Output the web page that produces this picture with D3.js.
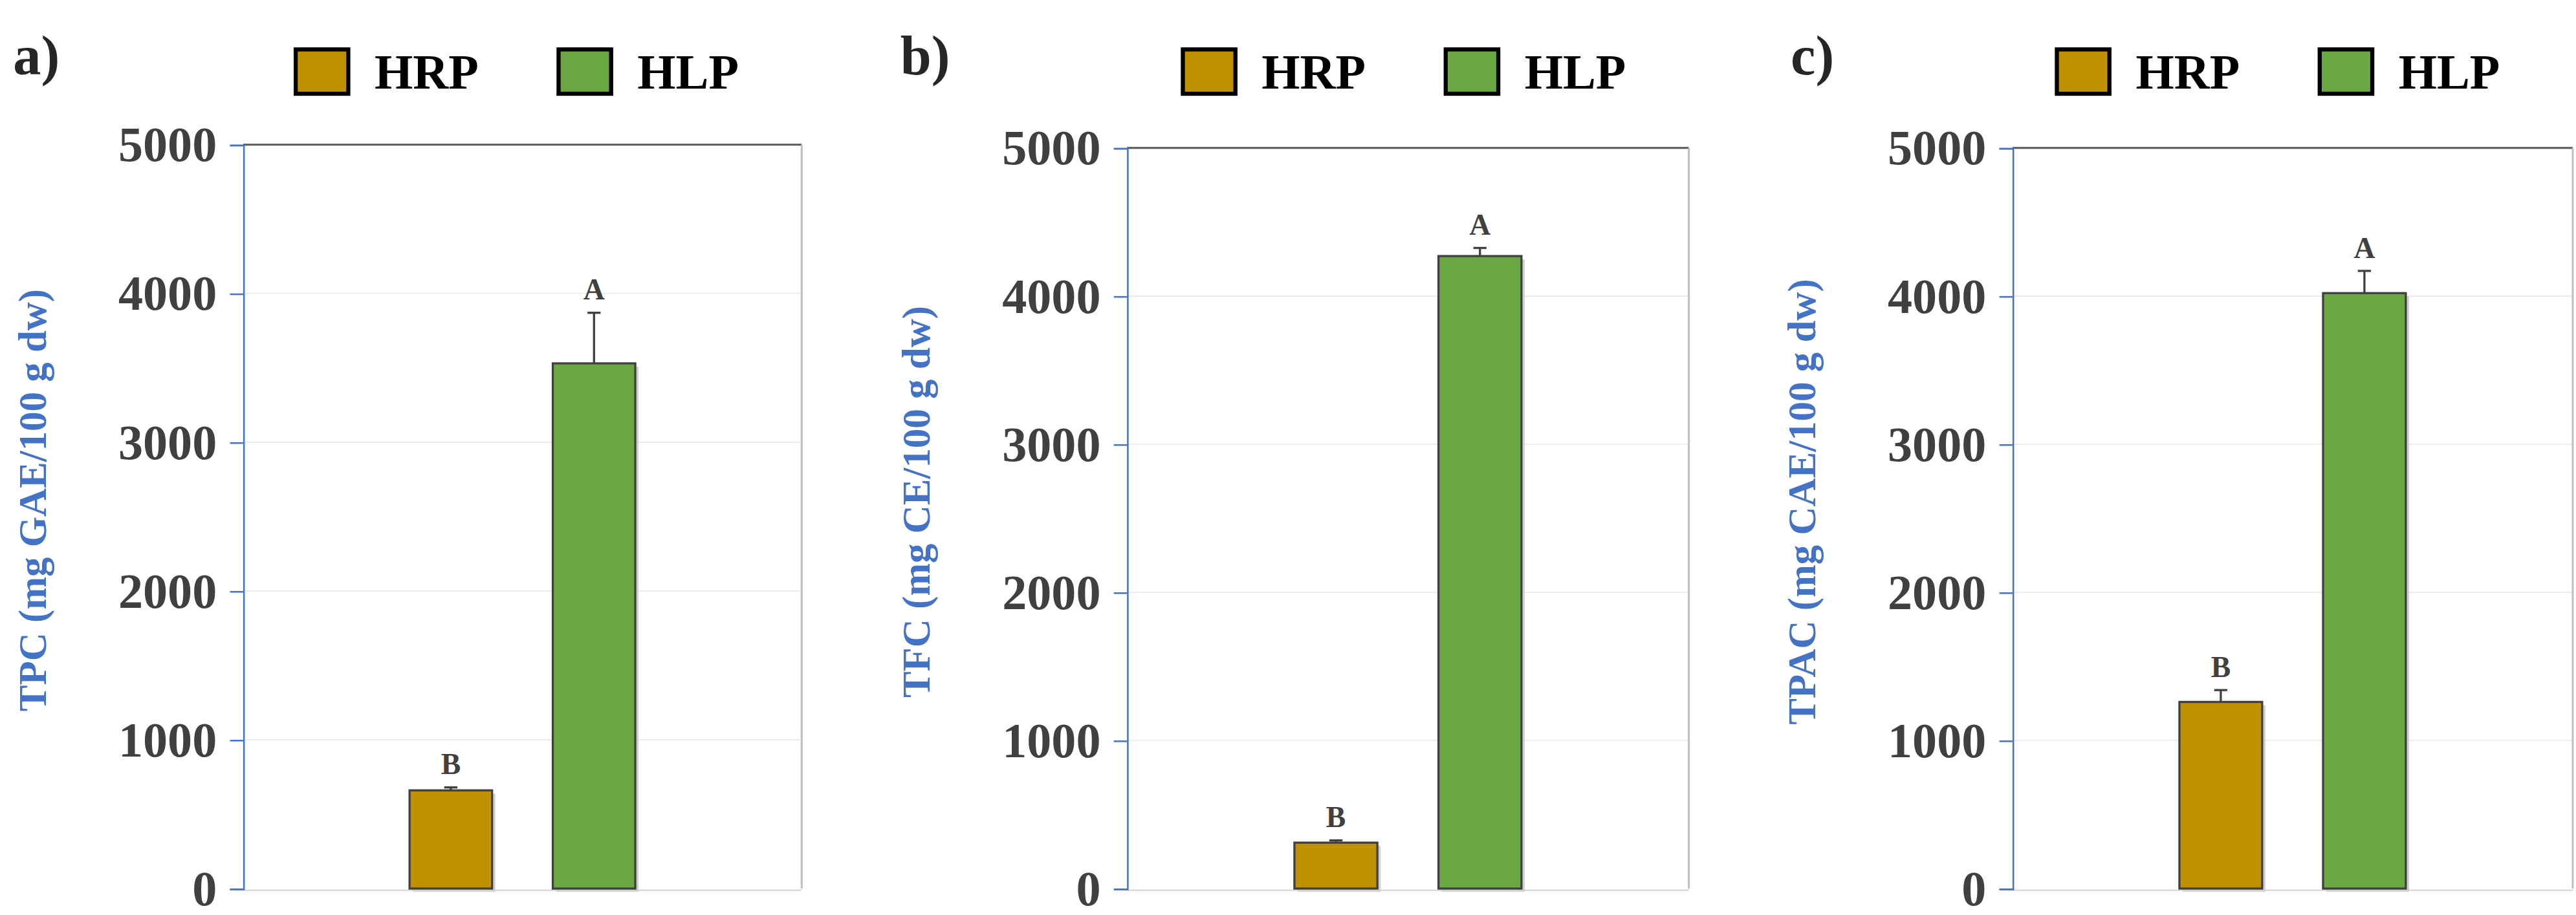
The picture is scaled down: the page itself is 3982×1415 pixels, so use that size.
<!DOCTYPE html>
<html><head><meta charset="utf-8">
<script src="https://cdn.jsdelivr.net/npm/d3@7"></script>
<style>body{margin:0;background:#fff}</style>
</head><body><div id="chart"></div>
<script>
// data
const groups = ['HRP', 'HLP'];
const colors = ['#BF9000', '#6AA842'];
const panels = ['a)', 'b)', 'c)'];
const yTitles = ['TPC (mg GAE/100 g dw)', 'TFC (mg CE/100 g dw)', 'TPAC (mg CAE/100 g dw)'];
const means = [[660, 3530], [310, 4270], [1260, 4020]];
const errs = [[20, 340], [15, 55], [80, 150]];
const letters = [['B', 'A'], ['B', 'A'], ['B', 'A']];
const yTicks = [0, 1000, 2000, 3000, 4000, 5000];

// drawn in a 1568x557 coordinate space, scaled up
const svg = d3.select('#chart').append('svg')
    .attr('width', 3982).attr('height', 1415)
    .attr('viewBox', '0 0 1568 557');

const layout = [
    {x0: 148, x1: 488, top: 88, lab: 8, leg: 180},
    {x0: 686, x1: 1028, top: 90, lab: 548, leg: 720},
    {x0: 1225, x1: 1566, top: 90, lab: 1090, leg: 1252}
];
const bottom = 541;
const font = '"Liberation Serif", "Times New Roman", serif';

layout.forEach((L, p) => {
    const g = svg.append('g');
    const y = d3.scaleLinear().domain([0, 5000]).range([bottom, L.top]);
    const x = d3.scaleBand().domain(['', ...groups, ' ']).range([L.x0, L.x1]).paddingInner(0.1);

    // grid
    g.selectAll('.grid').data(yTicks.slice(1, -1)).enter().append('line')
        .attr('x1', L.x0).attr('x2', L.x1)
        .attr('y1', d => y(d)).attr('y2', d => y(d))
        .attr('stroke', '#ececec').attr('stroke-width', 0.8);
    // frame
    g.append('line').attr('x1', L.x0).attr('x2', L.x1).attr('y1', L.top).attr('y2', L.top)
        .attr('stroke', '#595959').attr('stroke-width', 1.2);
    g.append('line').attr('x1', L.x1).attr('x2', L.x1).attr('y1', L.top).attr('y2', bottom)
        .attr('stroke', '#bfbfbf').attr('stroke-width', 1.2);
    g.append('line').attr('x1', L.x0).attr('x2', L.x1).attr('y1', bottom + 1).attr('y2', bottom + 1)
        .attr('stroke', '#d9d9d9').attr('stroke-width', 1);

    const ax = g.append('g').attr('transform', `translate(${L.x0},0)`)
        .call(d3.axisLeft(y).tickValues(yTicks).tickFormat(d3.format('d')).tickSize(8).tickPadding(8));
    ax.select('.domain').attr('stroke', '#4472C4');
    ax.selectAll('.tick line').attr('stroke', '#4472C4');
    ax.selectAll('.tick text').attr('fill', '#404040')
        .style('font', `bold 30px ${font}`);

    // y title
    g.append('text')
        .attr('transform', `translate(${L.x0 - 120},${(L.top + bottom) / 2 - 10}) rotate(-90)`)
        .attr('text-anchor', 'middle')
        .attr('fill', '#4472C4')
        .style('font', `bold 24px ${font}`)
        .text(yTitles[p]);

    groups.forEach((grp, i) => {
        const bx = x(grp) + x.bandwidth() * 0.18, bw = x.bandwidth() * 0.64;
        const v = means[p][i], e = errs[p][i];
        g.append('rect').attr('x', bx + 2).attr('y', y(v) + 2).attr('width', bw).attr('height', bottom - y(v))
            .attr('fill', '#d0d0d0');
        const cx = bx + bw / 2;
        g.append('line').attr('x1', cx).attr('x2', cx).attr('y1', y(v)).attr('y2', y(v + e))
            .attr('stroke', '#404040').attr('stroke-width', 1.3);
        g.append('line').attr('x1', cx - 4).attr('x2', cx + 4).attr('y1', y(v + e)).attr('y2', y(v + e))
            .attr('stroke', '#404040').attr('stroke-width', 1.3);
        g.append('rect').attr('x', bx).attr('y', y(v)).attr('width', bw).attr('height', bottom - y(v))
            .attr('fill', colors[i]).attr('stroke', '#404040').attr('stroke-width', 1.3);
        g.append('text').attr('x', cx).attr('y', y(v + e) - 8)
            .attr('text-anchor', 'middle').attr('fill', '#404040')
            .style('font', `bold 18px ${font}`).text(letters[p][i]);
    });

    // panel label
    g.append('text').attr('x', L.lab).attr('y', 45).attr('fill', '#262626')
        .style('font', `bold 34px ${font}`).text(panels[p]);

    // legend
    groups.forEach((grp, i) => {
        const lx = L.leg + i * 160;
        g.append('rect').attr('x', lx).attr('y', 30).attr('width', 32).attr('height', 27)
            .attr('fill', colors[i]).attr('stroke', '#000').attr('stroke-width', 2.5);
        g.append('text').attr('x', lx + 48).attr('y', 54).attr('fill', '#000')
            .style('font', `bold 30px ${font}`).text(grp);
    });
});
</script></body></html>
